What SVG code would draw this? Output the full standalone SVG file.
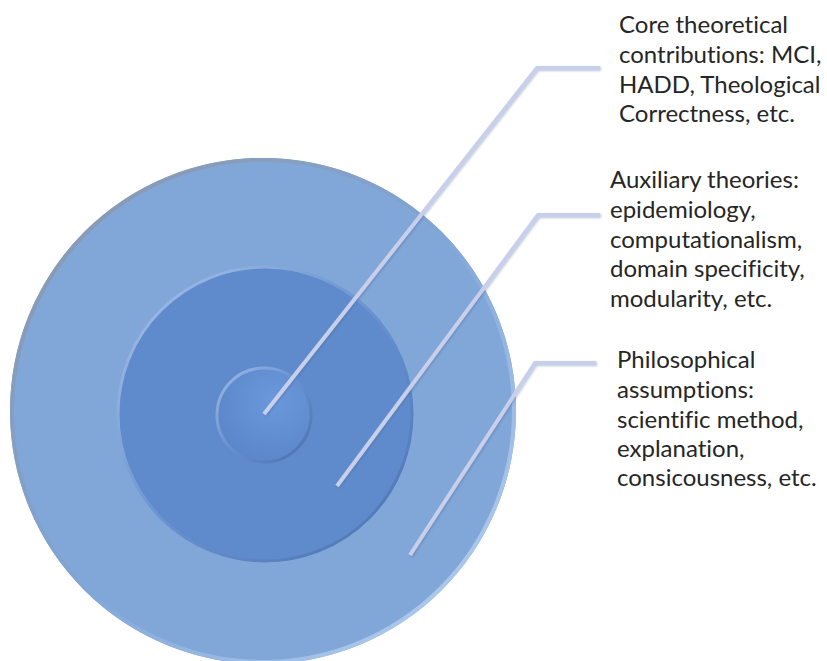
<svg xmlns="http://www.w3.org/2000/svg" width="827" height="661" viewBox="0 0 827 661">
<defs>
<linearGradient id="rimOuter" x1="0" y1="0" x2="1" y2="1">
<stop offset="0" stop-color="#8c97a8"/>
<stop offset="0.5" stop-color="#80a5d7"/>
<stop offset="1" stop-color="#bcd5f3"/>
</linearGradient>
<linearGradient id="rimMid" x1="0" y1="0" x2="1" y2="1">
<stop offset="0" stop-color="#a9c3e8"/>
<stop offset="0.5" stop-color="#6a93d0"/>
<stop offset="1" stop-color="#4a72b0"/>
</linearGradient>
<linearGradient id="rimInner" x1="0" y1="0" x2="1" y2="1">
<stop offset="0" stop-color="#9fbbe6"/>
<stop offset="0.5" stop-color="#6690d0"/>
<stop offset="1" stop-color="#4a70ad"/>
</linearGradient>
<radialGradient id="fillInner" cx="0.6" cy="0.35" r="0.7">
<stop offset="0" stop-color="#6b98dc"/>
<stop offset="1" stop-color="#5a86c8"/>
</radialGradient>
<filter id="sh" x="-5%" y="-5%" width="110%" height="110%">
<feDropShadow dx="1" dy="1" stdDeviation="1" flood-color="#3a5a8a" flood-opacity="0.35"/>
</filter>
</defs>
<style>
.conn{fill:none;stroke:#c7cfea;stroke-width:4;stroke-linejoin:miter}
.lbl{font-family:Lato,"Liberation Sans",sans-serif;font-size:24px;fill:#262626;font-variant-ligatures:none}
</style>
<rect width="827" height="661" fill="#ffffff"/>
<g id="outer">
<circle cx="263" cy="411" r="253" fill="#81a6d8"/>
<circle cx="263" cy="411" r="251" fill="none" stroke="url(#rimOuter)" stroke-width="4"/>
</g>
<g id="middle">
<circle cx="265" cy="414" r="148" fill="#5f8bcd"/>
<circle cx="265" cy="414" r="147" fill="none" stroke="url(#rimMid)" stroke-width="3"/>
</g>
<g id="inner">
<circle cx="264" cy="415" r="48" fill="url(#fillInner)"/>
<circle cx="264" cy="415" r="47" fill="none" stroke="url(#rimInner)" stroke-width="3"/>
</g>
<g id="connectors" filter="url(#sh)">
<polyline class="conn" points="264,414 537,68 600,68"/>
<polyline class="conn" points="337,486 538,215 600,215"/>
<polyline class="conn" points="410,555 535,363 596,363"/>
</g>
<g id="label-core">
<text class="lbl" x="619" y="33">Core theoretical</text>
<text class="lbl" x="619" y="63">contributions: MCI,</text>
<text class="lbl" x="619" y="93">HADD, Theological</text>
<text class="lbl" x="619" y="122">Correctness, etc.</text>
</g>
<g id="label-aux">
<text class="lbl" x="610" y="188">Auxiliary theories:</text>
<text class="lbl" x="610" y="218">epidemiology,</text>
<text class="lbl" x="610" y="248">computationalism,</text>
<text class="lbl" x="610" y="277">domain specificity,</text>
<text class="lbl" x="610" y="307">modularity, etc.</text>
</g>
<g id="label-phil">
<text class="lbl" x="617" y="368">Philosophical</text>
<text class="lbl" x="617" y="398">assumptions:</text>
<text class="lbl" x="617" y="428">scientific method,</text>
<text class="lbl" x="617" y="457">explanation,</text>
<text class="lbl" x="617" y="486">consicousness, etc.</text>
</g>
</svg>
